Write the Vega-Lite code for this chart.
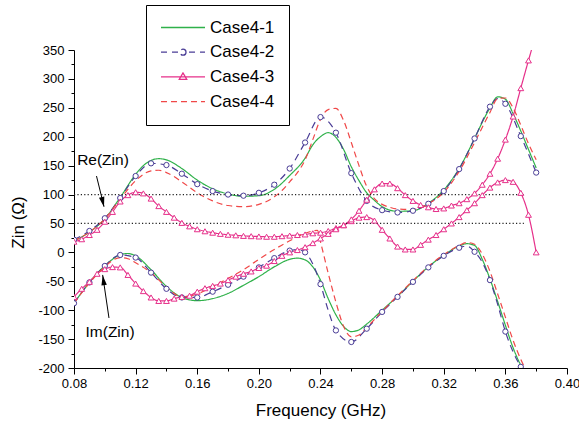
{
  "$schema": "https://vega.github.io/schema/vega-lite/v6.json",
  "width": 493,
  "height": 318,
  "autosize": {"type": "none"},
  "padding": {"left": 74, "top": 50, "right": 12, "bottom": 57},
  "config": {
    "font": "Liberation Sans",
    "view": {"stroke": null},
    "axis": {"grid": false, "domainColor": "black", "tickColor": "black", "labelColor": "black", "titleColor": "black", "labelFontSize": 13, "titleFontSize": 17, "titleFontWeight": "normal", "labelFont": "Liberation Sans", "titleFont": "Liberation Sans", "labelOverlap": false, "labelFlush": false, "labelBound": false}
  },
  "resolve": {"axis": {"x": "independent", "y": "independent"}},
  "datasets": {
    "curves": [
      {"c":"Case4-1","p":"Re","f":0.08,"z":20},{"c":"Case4-1","p":"Re","f":0.09,"z":35},{"c":"Case4-1","p":"Re","f":0.10,"z":58},{"c":"Case4-1","p":"Re","f":0.11,"z":95},{"c":"Case4-1","p":"Re","f":0.12,"z":135},{"c":"Case4-1","p":"Re","f":0.125,"z":150},{"c":"Case4-1","p":"Re","f":0.13,"z":159},{"c":"Case4-1","p":"Re","f":0.135,"z":162},{"c":"Case4-1","p":"Re","f":0.14,"z":160},{"c":"Case4-1","p":"Re","f":0.15,"z":145},{"c":"Case4-1","p":"Re","f":0.16,"z":125},{"c":"Case4-1","p":"Re","f":0.17,"z":110},{"c":"Case4-1","p":"Re","f":0.18,"z":101},{"c":"Case4-1","p":"Re","f":0.19,"z":97},{"c":"Case4-1","p":"Re","f":0.20,"z":98},{"c":"Case4-1","p":"Re","f":0.21,"z":109},{"c":"Case4-1","p":"Re","f":0.22,"z":133},{"c":"Case4-1","p":"Re","f":0.23,"z":163},{"c":"Case4-1","p":"Re","f":0.235,"z":186},{"c":"Case4-1","p":"Re","f":0.24,"z":200},{"c":"Case4-1","p":"Re","f":0.245,"z":207},{"c":"Case4-1","p":"Re","f":0.25,"z":199},{"c":"Case4-1","p":"Re","f":0.255,"z":178},{"c":"Case4-1","p":"Re","f":0.26,"z":148},{"c":"Case4-1","p":"Re","f":0.265,"z":124},{"c":"Case4-1","p":"Re","f":0.27,"z":103},{"c":"Case4-1","p":"Re","f":0.275,"z":90},{"c":"Case4-1","p":"Re","f":0.28,"z":79},{"c":"Case4-1","p":"Re","f":0.29,"z":71},{"c":"Case4-1","p":"Re","f":0.30,"z":72},{"c":"Case4-1","p":"Re","f":0.31,"z":85},{"c":"Case4-1","p":"Re","f":0.32,"z":108},{"c":"Case4-1","p":"Re","f":0.33,"z":145},{"c":"Case4-1","p":"Re","f":0.34,"z":197},{"c":"Case4-1","p":"Re","f":0.345,"z":225},{"c":"Case4-1","p":"Re","f":0.35,"z":250},{"c":"Case4-1","p":"Re","f":0.355,"z":269},{"c":"Case4-1","p":"Re","f":0.36,"z":265},{"c":"Case4-1","p":"Re","f":0.365,"z":240},{"c":"Case4-1","p":"Re","f":0.37,"z":210},{"c":"Case4-1","p":"Re","f":0.375,"z":178},{"c":"Case4-1","p":"Re","f":0.38,"z":146},
      {"c":"Case4-1","p":"Im","f":0.08,"z":-88},{"c":"Case4-1","p":"Im","f":0.09,"z":-52},{"c":"Case4-1","p":"Im","f":0.10,"z":-23},{"c":"Case4-1","p":"Im","f":0.105,"z":-12},{"c":"Case4-1","p":"Im","f":0.11,"z":-4},{"c":"Case4-1","p":"Im","f":0.115,"z":-2},{"c":"Case4-1","p":"Im","f":0.12,"z":-6},{"c":"Case4-1","p":"Im","f":0.13,"z":-30},{"c":"Case4-1","p":"Im","f":0.14,"z":-59},{"c":"Case4-1","p":"Im","f":0.15,"z":-78},{"c":"Case4-1","p":"Im","f":0.16,"z":-83.5},{"c":"Case4-1","p":"Im","f":0.17,"z":-80},{"c":"Case4-1","p":"Im","f":0.18,"z":-71},{"c":"Case4-1","p":"Im","f":0.19,"z":-57},{"c":"Case4-1","p":"Im","f":0.20,"z":-42},{"c":"Case4-1","p":"Im","f":0.21,"z":-25},{"c":"Case4-1","p":"Im","f":0.22,"z":-12},{"c":"Case4-1","p":"Im","f":0.225,"z":-10},{"c":"Case4-1","p":"Im","f":0.23,"z":-13},{"c":"Case4-1","p":"Im","f":0.235,"z":-25},{"c":"Case4-1","p":"Im","f":0.24,"z":-48},{"c":"Case4-1","p":"Im","f":0.245,"z":-80},{"c":"Case4-1","p":"Im","f":0.25,"z":-108},{"c":"Case4-1","p":"Im","f":0.255,"z":-128},{"c":"Case4-1","p":"Im","f":0.26,"z":-137},{"c":"Case4-1","p":"Im","f":0.265,"z":-134},{"c":"Case4-1","p":"Im","f":0.27,"z":-124},{"c":"Case4-1","p":"Im","f":0.28,"z":-100},{"c":"Case4-1","p":"Im","f":0.29,"z":-76},{"c":"Case4-1","p":"Im","f":0.30,"z":-50},{"c":"Case4-1","p":"Im","f":0.31,"z":-25},{"c":"Case4-1","p":"Im","f":0.32,"z":-5},{"c":"Case4-1","p":"Im","f":0.33,"z":11},{"c":"Case4-1","p":"Im","f":0.335,"z":15},{"c":"Case4-1","p":"Im","f":0.34,"z":12},{"c":"Case4-1","p":"Im","f":0.345,"z":-12},{"c":"Case4-1","p":"Im","f":0.35,"z":-46},{"c":"Case4-1","p":"Im","f":0.355,"z":-85},{"c":"Case4-1","p":"Im","f":0.36,"z":-126},{"c":"Case4-1","p":"Im","f":0.365,"z":-165},{"c":"Case4-1","p":"Im","f":0.37,"z":-195},{"c":"Case4-1","p":"Im","f":0.375,"z":-215},
      {"c":"Case4-2","p":"Re","f":0.08,"z":22},{"c":"Case4-2","p":"Re","f":0.09,"z":37},{"c":"Case4-2","p":"Re","f":0.10,"z":59},{"c":"Case4-2","p":"Re","f":0.11,"z":94},{"c":"Case4-2","p":"Re","f":0.12,"z":132},{"c":"Case4-2","p":"Re","f":0.13,"z":154},{"c":"Case4-2","p":"Re","f":0.14,"z":151},{"c":"Case4-2","p":"Re","f":0.15,"z":136},{"c":"Case4-2","p":"Re","f":0.16,"z":118},{"c":"Case4-2","p":"Re","f":0.17,"z":106},{"c":"Case4-2","p":"Re","f":0.18,"z":100},{"c":"Case4-2","p":"Re","f":0.19,"z":98},{"c":"Case4-2","p":"Re","f":0.20,"z":103},{"c":"Case4-2","p":"Re","f":0.21,"z":117},{"c":"Case4-2","p":"Re","f":0.22,"z":145},{"c":"Case4-2","p":"Re","f":0.23,"z":190},{"c":"Case4-2","p":"Re","f":0.24,"z":234},{"c":"Case4-2","p":"Re","f":0.25,"z":207},{"c":"Case4-2","p":"Re","f":0.26,"z":137},{"c":"Case4-2","p":"Re","f":0.27,"z":89},{"c":"Case4-2","p":"Re","f":0.28,"z":73},{"c":"Case4-2","p":"Re","f":0.29,"z":69},{"c":"Case4-2","p":"Re","f":0.30,"z":72},{"c":"Case4-2","p":"Re","f":0.31,"z":84},{"c":"Case4-2","p":"Re","f":0.32,"z":106},{"c":"Case4-2","p":"Re","f":0.33,"z":144},{"c":"Case4-2","p":"Re","f":0.34,"z":197},{"c":"Case4-2","p":"Re","f":0.35,"z":252},{"c":"Case4-2","p":"Re","f":0.355,"z":266},{"c":"Case4-2","p":"Re","f":0.36,"z":257},{"c":"Case4-2","p":"Re","f":0.37,"z":201},{"c":"Case4-2","p":"Re","f":0.38,"z":138},
      {"c":"Case4-2","p":"Im","f":0.08,"z":-88},{"c":"Case4-2","p":"Im","f":0.09,"z":-52},{"c":"Case4-2","p":"Im","f":0.10,"z":-23.5},{"c":"Case4-2","p":"Im","f":0.11,"z":-4.5},{"c":"Case4-2","p":"Im","f":0.12,"z":-9},{"c":"Case4-2","p":"Im","f":0.13,"z":-35},{"c":"Case4-2","p":"Im","f":0.14,"z":-63},{"c":"Case4-2","p":"Im","f":0.15,"z":-78},{"c":"Case4-2","p":"Im","f":0.16,"z":-78},{"c":"Case4-2","p":"Im","f":0.17,"z":-68},{"c":"Case4-2","p":"Im","f":0.18,"z":-56},{"c":"Case4-2","p":"Im","f":0.19,"z":-42},{"c":"Case4-2","p":"Im","f":0.20,"z":-26},{"c":"Case4-2","p":"Im","f":0.21,"z":-10},{"c":"Case4-2","p":"Im","f":0.22,"z":3},{"c":"Case4-2","p":"Im","f":0.225,"z":5},{"c":"Case4-2","p":"Im","f":0.23,"z":0},{"c":"Case4-2","p":"Im","f":0.235,"z":-20},{"c":"Case4-2","p":"Im","f":0.24,"z":-55},{"c":"Case4-2","p":"Im","f":0.245,"z":-100},{"c":"Case4-2","p":"Im","f":0.25,"z":-135},{"c":"Case4-2","p":"Im","f":0.26,"z":-155},{"c":"Case4-2","p":"Im","f":0.27,"z":-132},{"c":"Case4-2","p":"Im","f":0.28,"z":-103},{"c":"Case4-2","p":"Im","f":0.29,"z":-77},{"c":"Case4-2","p":"Im","f":0.30,"z":-51},{"c":"Case4-2","p":"Im","f":0.31,"z":-26},{"c":"Case4-2","p":"Im","f":0.32,"z":-6},{"c":"Case4-2","p":"Im","f":0.33,"z":8},{"c":"Case4-2","p":"Im","f":0.335,"z":11},{"c":"Case4-2","p":"Im","f":0.34,"z":1},{"c":"Case4-2","p":"Im","f":0.345,"z":-17},{"c":"Case4-2","p":"Im","f":0.35,"z":-48},{"c":"Case4-2","p":"Im","f":0.355,"z":-90},{"c":"Case4-2","p":"Im","f":0.36,"z":-137},{"c":"Case4-2","p":"Im","f":0.365,"z":-172},{"c":"Case4-2","p":"Im","f":0.37,"z":-198},
      {"c":"Case4-3","p":"Re","f":0.08,"z":18.5},{"c":"Case4-3","p":"Re","f":0.085,"z":22.7},{"c":"Case4-3","p":"Re","f":0.09,"z":30},{"c":"Case4-3","p":"Re","f":0.095,"z":39},{"c":"Case4-3","p":"Re","f":0.10,"z":53},{"c":"Case4-3","p":"Re","f":0.105,"z":70},{"c":"Case4-3","p":"Re","f":0.11,"z":88},{"c":"Case4-3","p":"Re","f":0.115,"z":99},{"c":"Case4-3","p":"Re","f":0.12,"z":104},{"c":"Case4-3","p":"Re","f":0.125,"z":102},{"c":"Case4-3","p":"Re","f":0.13,"z":93},{"c":"Case4-3","p":"Re","f":0.135,"z":80},{"c":"Case4-3","p":"Re","f":0.14,"z":70},{"c":"Case4-3","p":"Re","f":0.145,"z":60},{"c":"Case4-3","p":"Re","f":0.15,"z":51},{"c":"Case4-3","p":"Re","f":0.155,"z":45},{"c":"Case4-3","p":"Re","f":0.16,"z":40},{"c":"Case4-3","p":"Re","f":0.165,"z":36.5},{"c":"Case4-3","p":"Re","f":0.17,"z":34},{"c":"Case4-3","p":"Re","f":0.175,"z":32},{"c":"Case4-3","p":"Re","f":0.18,"z":30.5},{"c":"Case4-3","p":"Re","f":0.185,"z":29.5},{"c":"Case4-3","p":"Re","f":0.19,"z":28.5},{"c":"Case4-3","p":"Re","f":0.195,"z":28},{"c":"Case4-3","p":"Re","f":0.20,"z":27.5},{"c":"Case4-3","p":"Re","f":0.205,"z":27},{"c":"Case4-3","p":"Re","f":0.21,"z":27},{"c":"Case4-3","p":"Re","f":0.215,"z":28},{"c":"Case4-3","p":"Re","f":0.22,"z":29},{"c":"Case4-3","p":"Re","f":0.225,"z":30},{"c":"Case4-3","p":"Re","f":0.23,"z":31},{"c":"Case4-3","p":"Re","f":0.235,"z":33},{"c":"Case4-3","p":"Re","f":0.24,"z":34},{"c":"Case4-3","p":"Re","f":0.245,"z":37},{"c":"Case4-3","p":"Re","f":0.25,"z":42},{"c":"Case4-3","p":"Re","f":0.255,"z":47},{"c":"Case4-3","p":"Re","f":0.26,"z":54},{"c":"Case4-3","p":"Re","f":0.265,"z":60},{"c":"Case4-3","p":"Re","f":0.27,"z":61},{"c":"Case4-3","p":"Re","f":0.275,"z":55},{"c":"Case4-3","p":"Re","f":0.28,"z":39},{"c":"Case4-3","p":"Re","f":0.285,"z":24},{"c":"Case4-3","p":"Re","f":0.29,"z":10},{"c":"Case4-3","p":"Re","f":0.295,"z":5},{"c":"Case4-3","p":"Re","f":0.30,"z":5},{"c":"Case4-3","p":"Re","f":0.305,"z":13},{"c":"Case4-3","p":"Re","f":0.31,"z":22},{"c":"Case4-3","p":"Re","f":0.315,"z":30},{"c":"Case4-3","p":"Re","f":0.32,"z":40},{"c":"Case4-3","p":"Re","f":0.325,"z":50},{"c":"Case4-3","p":"Re","f":0.33,"z":61},{"c":"Case4-3","p":"Re","f":0.335,"z":73},{"c":"Case4-3","p":"Re","f":0.34,"z":85},{"c":"Case4-3","p":"Re","f":0.345,"z":99},{"c":"Case4-3","p":"Re","f":0.35,"z":112},{"c":"Case4-3","p":"Re","f":0.355,"z":121},{"c":"Case4-3","p":"Re","f":0.36,"z":125},{"c":"Case4-3","p":"Re","f":0.365,"z":122},{"c":"Case4-3","p":"Re","f":0.37,"z":103},{"c":"Case4-3","p":"Re","f":0.375,"z":65},{"c":"Case4-3","p":"Re","f":0.38,"z":0},
      {"c":"Case4-3","p":"Im","f":0.08,"z":-77},{"c":"Case4-3","p":"Im","f":0.085,"z":-63},{"c":"Case4-3","p":"Im","f":0.09,"z":-51},{"c":"Case4-3","p":"Im","f":0.095,"z":-37},{"c":"Case4-3","p":"Im","f":0.10,"z":-29},{"c":"Case4-3","p":"Im","f":0.105,"z":-25.5},{"c":"Case4-3","p":"Im","f":0.11,"z":-26},{"c":"Case4-3","p":"Im","f":0.115,"z":-39},{"c":"Case4-3","p":"Im","f":0.12,"z":-54},{"c":"Case4-3","p":"Im","f":0.125,"z":-67},{"c":"Case4-3","p":"Im","f":0.13,"z":-78},{"c":"Case4-3","p":"Im","f":0.135,"z":-84},{"c":"Case4-3","p":"Im","f":0.14,"z":-84},{"c":"Case4-3","p":"Im","f":0.145,"z":-80},{"c":"Case4-3","p":"Im","f":0.15,"z":-77},{"c":"Case4-3","p":"Im","f":0.155,"z":-75},{"c":"Case4-3","p":"Im","f":0.16,"z":-68},{"c":"Case4-3","p":"Im","f":0.165,"z":-62},{"c":"Case4-3","p":"Im","f":0.17,"z":-58},{"c":"Case4-3","p":"Im","f":0.175,"z":-54},{"c":"Case4-3","p":"Im","f":0.18,"z":-48},{"c":"Case4-3","p":"Im","f":0.185,"z":-42},{"c":"Case4-3","p":"Im","f":0.19,"z":-37},{"c":"Case4-3","p":"Im","f":0.195,"z":-33},{"c":"Case4-3","p":"Im","f":0.20,"z":-27},{"c":"Case4-3","p":"Im","f":0.205,"z":-23},{"c":"Case4-3","p":"Im","f":0.21,"z":-15},{"c":"Case4-3","p":"Im","f":0.215,"z":-6},{"c":"Case4-3","p":"Im","f":0.22,"z":0},{"c":"Case4-3","p":"Im","f":0.225,"z":4},{"c":"Case4-3","p":"Im","f":0.23,"z":9},{"c":"Case4-3","p":"Im","f":0.235,"z":16},{"c":"Case4-3","p":"Im","f":0.24,"z":24},{"c":"Case4-3","p":"Im","f":0.245,"z":32},{"c":"Case4-3","p":"Im","f":0.25,"z":40},{"c":"Case4-3","p":"Im","f":0.255,"z":47},{"c":"Case4-3","p":"Im","f":0.26,"z":57},{"c":"Case4-3","p":"Im","f":0.265,"z":72},{"c":"Case4-3","p":"Im","f":0.27,"z":91},{"c":"Case4-3","p":"Im","f":0.275,"z":109},{"c":"Case4-3","p":"Im","f":0.28,"z":119},{"c":"Case4-3","p":"Im","f":0.285,"z":119},{"c":"Case4-3","p":"Im","f":0.29,"z":111},{"c":"Case4-3","p":"Im","f":0.295,"z":99},{"c":"Case4-3","p":"Im","f":0.30,"z":89},{"c":"Case4-3","p":"Im","f":0.305,"z":82},{"c":"Case4-3","p":"Im","f":0.31,"z":78},{"c":"Case4-3","p":"Im","f":0.315,"z":75},{"c":"Case4-3","p":"Im","f":0.32,"z":76},{"c":"Case4-3","p":"Im","f":0.325,"z":81},{"c":"Case4-3","p":"Im","f":0.33,"z":85},{"c":"Case4-3","p":"Im","f":0.335,"z":92},{"c":"Case4-3","p":"Im","f":0.34,"z":102},{"c":"Case4-3","p":"Im","f":0.345,"z":117},{"c":"Case4-3","p":"Im","f":0.35,"z":136},{"c":"Case4-3","p":"Im","f":0.355,"z":162},{"c":"Case4-3","p":"Im","f":0.36,"z":195},{"c":"Case4-3","p":"Im","f":0.365,"z":235},{"c":"Case4-3","p":"Im","f":0.37,"z":284},{"c":"Case4-3","p":"Im","f":0.375,"z":332},{"c":"Case4-3","p":"Im","f":0.38,"z":378},
      {"c":"Case4-4","p":"Re","f":0.08,"z":20},{"c":"Case4-4","p":"Re","f":0.09,"z":35},{"c":"Case4-4","p":"Re","f":0.10,"z":58},{"c":"Case4-4","p":"Re","f":0.11,"z":92},{"c":"Case4-4","p":"Re","f":0.12,"z":124},{"c":"Case4-4","p":"Re","f":0.125,"z":135},{"c":"Case4-4","p":"Re","f":0.13,"z":141},{"c":"Case4-4","p":"Re","f":0.135,"z":142},{"c":"Case4-4","p":"Re","f":0.14,"z":138},{"c":"Case4-4","p":"Re","f":0.15,"z":122},{"c":"Case4-4","p":"Re","f":0.16,"z":103},{"c":"Case4-4","p":"Re","f":0.17,"z":89},{"c":"Case4-4","p":"Re","f":0.18,"z":81},{"c":"Case4-4","p":"Re","f":0.19,"z":79},{"c":"Case4-4","p":"Re","f":0.20,"z":83},{"c":"Case4-4","p":"Re","f":0.21,"z":96},{"c":"Case4-4","p":"Re","f":0.215,"z":107},{"c":"Case4-4","p":"Re","f":0.22,"z":122},{"c":"Case4-4","p":"Re","f":0.225,"z":138},{"c":"Case4-4","p":"Re","f":0.23,"z":160},{"c":"Case4-4","p":"Re","f":0.235,"z":195},{"c":"Case4-4","p":"Re","f":0.24,"z":230},{"c":"Case4-4","p":"Re","f":0.245,"z":247},{"c":"Case4-4","p":"Re","f":0.25,"z":249},{"c":"Case4-4","p":"Re","f":0.255,"z":228},{"c":"Case4-4","p":"Re","f":0.26,"z":190},{"c":"Case4-4","p":"Re","f":0.265,"z":150},{"c":"Case4-4","p":"Re","f":0.27,"z":114},{"c":"Case4-4","p":"Re","f":0.275,"z":93},{"c":"Case4-4","p":"Re","f":0.28,"z":83},{"c":"Case4-4","p":"Re","f":0.285,"z":78},{"c":"Case4-4","p":"Re","f":0.29,"z":75},{"c":"Case4-4","p":"Re","f":0.30,"z":74},{"c":"Case4-4","p":"Re","f":0.31,"z":84},{"c":"Case4-4","p":"Re","f":0.32,"z":104},{"c":"Case4-4","p":"Re","f":0.33,"z":140},{"c":"Case4-4","p":"Re","f":0.34,"z":190},{"c":"Case4-4","p":"Re","f":0.35,"z":242},{"c":"Case4-4","p":"Re","f":0.355,"z":266},{"c":"Case4-4","p":"Re","f":0.36,"z":267},{"c":"Case4-4","p":"Re","f":0.365,"z":250},{"c":"Case4-4","p":"Re","f":0.37,"z":220},{"c":"Case4-4","p":"Re","f":0.375,"z":188},{"c":"Case4-4","p":"Re","f":0.38,"z":160},
      {"c":"Case4-4","p":"Im","f":0.08,"z":-88},{"c":"Case4-4","p":"Im","f":0.09,"z":-53},{"c":"Case4-4","p":"Im","f":0.10,"z":-25},{"c":"Case4-4","p":"Im","f":0.105,"z":-14},{"c":"Case4-4","p":"Im","f":0.11,"z":-9},{"c":"Case4-4","p":"Im","f":0.115,"z":-11},{"c":"Case4-4","p":"Im","f":0.12,"z":-18},{"c":"Case4-4","p":"Im","f":0.13,"z":-35},{"c":"Case4-4","p":"Im","f":0.14,"z":-60},{"c":"Case4-4","p":"Im","f":0.15,"z":-77},{"c":"Case4-4","p":"Im","f":0.155,"z":-76},{"c":"Case4-4","p":"Im","f":0.16,"z":-72},{"c":"Case4-4","p":"Im","f":0.17,"z":-59},{"c":"Case4-4","p":"Im","f":0.18,"z":-45},{"c":"Case4-4","p":"Im","f":0.19,"z":-30},{"c":"Case4-4","p":"Im","f":0.20,"z":-12},{"c":"Case4-4","p":"Im","f":0.21,"z":5},{"c":"Case4-4","p":"Im","f":0.22,"z":20},{"c":"Case4-4","p":"Im","f":0.23,"z":33},{"c":"Case4-4","p":"Im","f":0.235,"z":37},{"c":"Case4-4","p":"Im","f":0.238,"z":38},{"c":"Case4-4","p":"Im","f":0.24,"z":18},{"c":"Case4-4","p":"Im","f":0.245,"z":-36},{"c":"Case4-4","p":"Im","f":0.25,"z":-86},{"c":"Case4-4","p":"Im","f":0.255,"z":-128},{"c":"Case4-4","p":"Im","f":0.26,"z":-146},{"c":"Case4-4","p":"Im","f":0.265,"z":-143},{"c":"Case4-4","p":"Im","f":0.27,"z":-130},{"c":"Case4-4","p":"Im","f":0.28,"z":-102},{"c":"Case4-4","p":"Im","f":0.29,"z":-75},{"c":"Case4-4","p":"Im","f":0.30,"z":-49},{"c":"Case4-4","p":"Im","f":0.31,"z":-24},{"c":"Case4-4","p":"Im","f":0.32,"z":-4},{"c":"Case4-4","p":"Im","f":0.33,"z":12},{"c":"Case4-4","p":"Im","f":0.335,"z":17},{"c":"Case4-4","p":"Im","f":0.34,"z":14},{"c":"Case4-4","p":"Im","f":0.345,"z":-3},{"c":"Case4-4","p":"Im","f":0.35,"z":-33},{"c":"Case4-4","p":"Im","f":0.355,"z":-72},{"c":"Case4-4","p":"Im","f":0.36,"z":-112},{"c":"Case4-4","p":"Im","f":0.365,"z":-152},{"c":"Case4-4","p":"Im","f":0.37,"z":-185},{"c":"Case4-4","p":"Im","f":0.375,"z":-212}
    ],
    "refs": [
      {"z": 100, "f1": 0.08, "f2": 0.372},
      {"z": 50, "f1": 0.08, "f2": 0.372}
    ],
    "notes": [
      {"label": "Re(Zin)", "f": 0.0988, "z": 151},
      {"label": "Im(Zin)", "f": 0.1034, "z": -146}
    ],
    "arrows": [
      {"label": "Re(Zin)", "f": 0.0946, "z": 132, "f2": 0.0995, "z2": 79, "hf": 0.0987, "hz": 87},
      {"label": "Im(Zin)", "f": 0.1027, "z": -113.5, "f2": 0.0986, "z2": -39, "hf": 0.0991, "hz": -48}
    ]
  },
  "layer": [
    {
      "data": {"name": "curves"},
      "mark": {"type": "line", "interpolate": "monotone", "strokeWidth": 1.2, "clip": true},
      "encoding": {
        "x": {"field": "f", "type": "quantitative", "scale": {"domain": [0.08, 0.40], "nice": false, "zero": false},
          "axis": {"title": "Frequency (GHz)", "orient": "bottom", "values": [0.08,0.12,0.16,0.20,0.24,0.28,0.32,0.36,0.40],
            "format": ".2f", "tickSize": 6, "labelPadding": 3, "titlePadding": 12}},
        "y": {"field": "z", "type": "quantitative", "scale": {"domain": [-200, 350], "nice": false, "zero": false},
          "axis": {"title": "Zin (Ω)", "orient": "left", "values": [-200,-150,-100,-50,0,50,100,150,200,250,300,350],
            "labelExpr": "'' + datum.value", "tickSize": 6, "labelPadding": 4, "titlePadding": 10, "titleY": 172}},
        "detail": {"field": "p"},
        "strokeDash": {"field": "c", "type": "nominal", "legend": null,
          "scale": {"domain": ["Case4-1","Case4-2","Case4-3","Case4-4"], "range": [[1,0],[7,5],[1,0],[6,4]]}},
        "color": {"field": "c", "type": "nominal",
          "scale": {"domain": ["Case4-1","Case4-2","Case4-3","Case4-4"], "range": ["#2fb14a", "#4a3d96", "#e6308a", "#f04848"]},
          "legend": {
            "title": null, "orient": "none", "legendX": 72, "legendY": -45,
            "strokeColor": "black", "fillColor": "white", "padding": 14,
            "symbolSize": 1936, "symbolStrokeWidth": 1.3, "symbolOffset": 0, "clipHeight": 17,
            "labelOffset": 4, "labelFont": "Liberation Sans", "labelFontSize": 17, "labelColor": "black", "labelLimit": 300,
            "rowPadding": 6.7,
            "encode": {"symbols": {"update": {
              "fill": {"value": "transparent"},
              "shape": [
                {"test": "datum.value === 'Case4-2'", "value": "M-1,0H-0.727M-0.5,0H-0.227M0.273,0H0.545M0.773,0H1M0.136,0A0.136,0.136 0 1,1 -0.136,0A0.136,0.136 0 1,1 0.136,0"},
                {"test": "datum.value === 'Case4-3'", "value": "M-1,0H1M0,-0.18L0.17,0.11L-0.17,0.11Z"},
                {"test": "datum.value === 'Case4-4'", "value": "M-1,0H-0.727M-0.545,0H-0.273M-0.091,0H0.182M0.364,0H0.636M0.818,0H1"},
                {"value": "M-1,0H1"}
              ]
            }}}
          }}
      }
    },
    {
      "data": {"name": "refs"},
      "mark": {"type": "rule", "color": "#222", "strokeWidth": 1.2, "strokeDash": [1.2, 2.2]},
      "encoding": {
        "y": {"field": "z", "type": "quantitative",
          "axis": {"orient": "left", "values": [-175,-125,-75,-25,25,75,125,175,225,275,325], "labels": false, "domain": false, "tickSize": 3, "title": null}},
        "x": {"field": "f1", "type": "quantitative",
          "axis": {"orient": "bottom", "values": [0.10,0.14,0.18,0.22,0.26,0.30,0.34,0.38], "labels": false, "domain": false, "tickSize": 3, "title": null}},
        "x2": {"field": "f2"}
      }
    },
    {
      "data": {"name": "curves"},
      "transform": [{"filter": "datum.c === 'Case4-2' && round(datum.f*1000) % 10 == 0"}],
      "mark": {"type": "point", "shape": "circle", "size": 28, "filled": false, "fill": "white", "fillOpacity": 1, "stroke": "#4a3d96", "strokeWidth": 1, "clip": true},
      "encoding": {
        "x": {"field": "f", "type": "quantitative", "axis": null},
        "y": {"field": "z", "type": "quantitative", "axis": null}
      }
    },
    {
      "data": {"name": "curves"},
      "transform": [{"filter": "datum.c === 'Case4-3'"}],
      "mark": {"type": "point", "shape": "triangle-up", "size": 34, "filled": false, "fill": "white", "fillOpacity": 1, "stroke": "#e6308a", "strokeWidth": 1, "clip": true},
      "encoding": {
        "x": {"field": "f", "type": "quantitative", "axis": null},
        "y": {"field": "z", "type": "quantitative", "axis": null}
      }
    },
    {
      "data": {"name": "notes"},
      "mark": {"type": "text", "font": "Liberation Sans", "fontSize": 15.5, "color": "black", "align": "center", "baseline": "alphabetic"},
      "encoding": {
        "x": {"field": "f", "type": "quantitative", "axis": null},
        "y": {"field": "z", "type": "quantitative", "axis": null},
        "text": {"field": "label"}
      }
    },
    {
      "data": {"name": "arrows"},
      "mark": {"type": "rule", "color": "black", "strokeWidth": 1},
      "encoding": {
        "x": {"field": "f", "type": "quantitative", "axis": null},
        "y": {"field": "z", "type": "quantitative", "axis": null},
        "x2": {"field": "f2"},
        "y2": {"field": "z2"}
      }
    },
    {
      "data": {"name": "arrows"},
      "transform": [{"filter": "datum.label === 'Re(Zin)'"}],
      "mark": {"type": "point", "shape": "M0,1L-0.55,-1L0.55,-1Z", "size": 100, "filled": true, "color": "black", "opacity": 1, "angle": -13.6},
      "encoding": {
        "x": {"field": "hf", "type": "quantitative", "axis": null},
        "y": {"field": "hz", "type": "quantitative", "axis": null}
      }
    },
    {
      "data": {"name": "arrows"},
      "transform": [{"filter": "datum.label === 'Im(Zin)'"}],
      "mark": {"type": "point", "shape": "M0,1L-0.55,-1L0.55,-1Z", "size": 100, "filled": true, "color": "black", "opacity": 1, "angle": 171.7},
      "encoding": {
        "x": {"field": "hf", "type": "quantitative", "axis": null},
        "y": {"field": "hz", "type": "quantitative", "axis": null}
      }
    }
  ]
}
